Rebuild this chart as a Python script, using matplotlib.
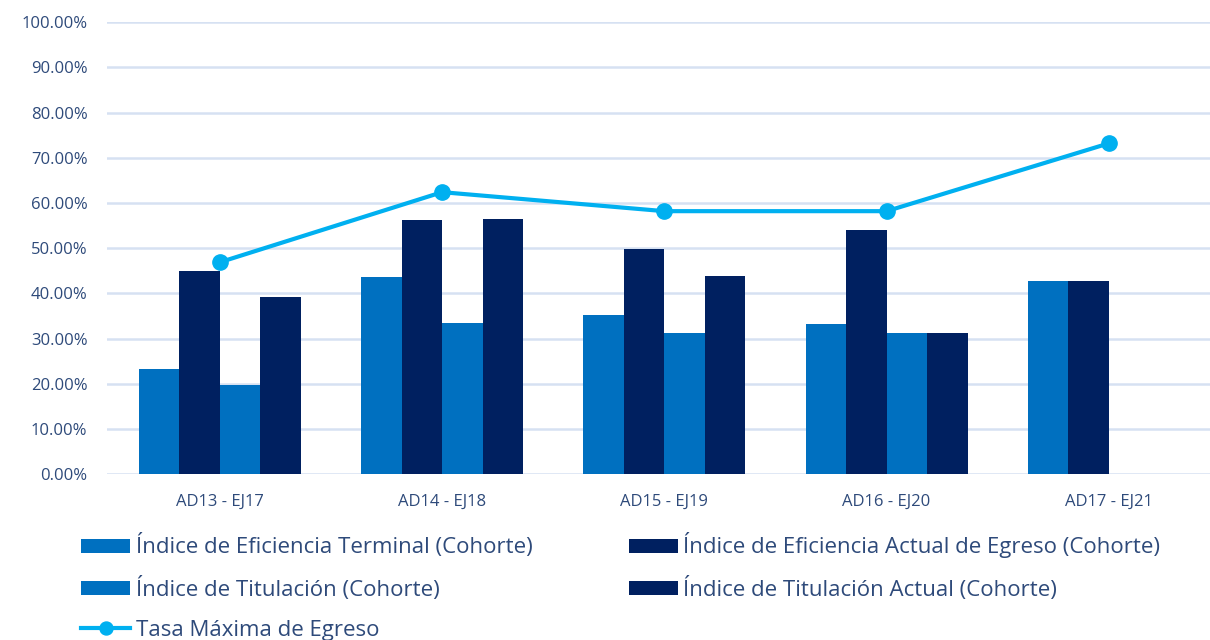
import matplotlib
matplotlib.use("Agg")
import matplotlib.pyplot as plt
import numpy as np
from matplotlib.ticker import FuncFormatter

categories = ["AD13 - EJ17", "AD14 - EJ18", "AD15 - EJ19", "AD16 - EJ20", "AD17 - EJ21"]
eficiencia_terminal = [23.2, 43.6, 35.2, 33.2, 42.7]
eficiencia_actual = [44.9, 56.2, 49.8, 54.0, 42.7]
titulacion = [19.7, 33.4, 31.2, 31.2, 0.0]
titulacion_actual = [39.2, 56.4, 43.8, 31.2, 0.0]
tasa_maxima = [46.9, 62.4, 58.2, 58.2, 73.2]

LIGHT = "#0070C0"
DARK = "#002060"
CYAN = "#00B0F0"
TEXT = "#2E4A7A"
GRID = "#D6E1F2"

plt.rcParams["font.family"] = ["Open Sans", "DejaVu Sans"]

fig = plt.figure(figsize=(12.1, 6.4), dpi=100)
ax = fig.add_axes([0.0884, 0.259, 0.9116, 0.7063])

x = np.arange(len(categories))
w = 0.182
series = [
    (eficiencia_terminal, LIGHT, "Índice de Eficiencia Terminal (Cohorte)"),
    (eficiencia_actual, DARK, "Índice de Eficiencia Actual de Egreso (Cohorte)"),
    (titulacion, LIGHT, "Índice de Titulación (Cohorte)"),
    (titulacion_actual, DARK, "Índice de Titulación Actual (Cohorte)"),
]
handles = []
for i, (vals, color, label) in enumerate(series):
    b = ax.bar(x + (i - 1.5) * w, vals, width=w, color=color, label=label, zorder=3)
    handles.append(b)

line, = ax.plot(x, tasa_maxima, color=CYAN, linewidth=3, marker="o", markersize=11,
                label="Tasa Máxima de Egreso", zorder=4)

ax.set_ylim(0, 100)
ax.set_xlim(-0.508, 4.455)
ax.set_yticks(np.arange(0, 101, 10))
ax.yaxis.set_major_formatter(FuncFormatter(lambda v, p: f"{v:.2f}%"))
ax.set_xticks(x)
ax.set_xticklabels(categories)
ax.tick_params(axis="both", length=0, colors=TEXT, labelsize=12)
ax.tick_params(axis="x", pad=14)
ax.tick_params(axis="y", pad=14)
ax.grid(axis="y", color=GRID, linewidth=1.8, zorder=0)
for s in ax.spines.values():
    s.set_visible(False)

order = [handles[0], handles[2], line, handles[1], handles[3]]
leg = fig.legend(order, [h.get_label() for h in order], ncol=2,
                 loc="upper left", bbox_to_anchor=(0.067, 0.168),
                 frameon=False, fontsize=16, handlelength=2.2, handleheight=0.6,
                 handletextpad=0.25, columnspacing=4.35, labelspacing=0.84,
                 borderaxespad=0, borderpad=0, markerscale=0.85)
for t in leg.get_texts():
    t.set_color(TEXT)

fig.savefig("out.png", dpi=100)
